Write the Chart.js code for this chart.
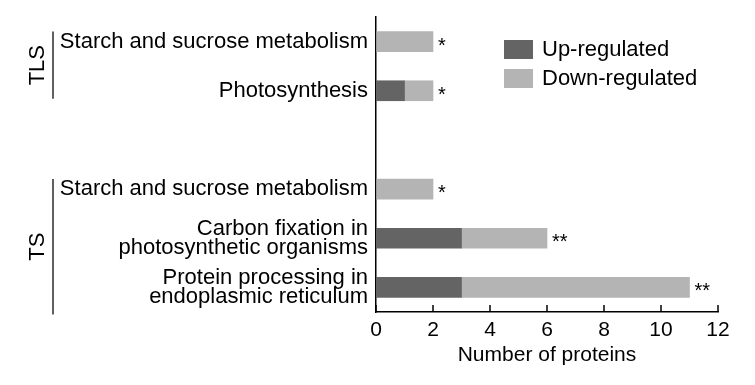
<!DOCTYPE html>
<html>
<head>
<meta charset="utf-8">
<script src="https://cdn.jsdelivr.net/npm/chart.js@4.4.1/dist/chart.umd.min.js"></script>
<style>
  html, body { margin: 0; padding: 0; background: #fff; }
  #wrap { width: 755px; height: 385px; }
</style>
</head>
<body>
<div id="wrap"><canvas id="pathwayChart"></canvas></div>
<script>
// Chart data
const categories = [
  'Starch and sucrose metabolism',
  'Photosynthesis',
  '',
  'Starch and sucrose metabolism',
  ['Carbon fixation in', 'photosynthetic organisms'],
  ['Protein processing in', 'endoplasmic reticulum']
];
const upRegulated = [0, 1, null, 0, 3, 3];
const downRegulated = [2, 1, null, 2, 3, 8];
const significance = ['*', '*', '', '*', '**', '**'];
const groupNames = ['TLS', 'TS'];
const groupStart = [0, 3];
const groupEnd = [1, 5];

const FONT = "'Liberation Sans', Arial, sans-serif";
const darkGrey = '#646464';
const lightGrey = '#b4b4b4';

// Extra drawing: inward ticks, asterisks, group brackets, legend
const decorations = {
  id: 'decorations',
  afterDraw(chart) {
    const ctx = chart.ctx;
    const xs = chart.scales.x;
    const ys = chart.scales.y;
    ctx.save();

    // inward tick marks on x axis
    ctx.strokeStyle = '#000';
    ctx.lineWidth = 1.5;
    xs.ticks.forEach(t => {
      const px = xs.getPixelForValue(t.value);
      ctx.beginPath();
      ctx.moveTo(px, ys.bottom);
      ctx.lineTo(px, ys.bottom - 7);
      ctx.stroke();
    });

    // significance stars
    const meta = chart.getDatasetMeta(1);
    ctx.fillStyle = '#000';
    ctx.font = '20px ' + FONT;
    ctx.textAlign = 'left';
    ctx.textBaseline = 'alphabetic';
    significance.forEach((s, i) => {
      if (!s) return;
      const bar = meta.data[i];
      ctx.fillText(s, bar.x + 5, bar.y + 10);
    });

    // group brackets
    ctx.strokeStyle = '#2b2b2b';
    ctx.lineWidth = 1.5;
    ctx.font = '22px ' + FONT;
    groupNames.forEach((name, g) => {
      const startLines = Array.isArray(categories[groupStart[g]]) ? 2 : 1;
      const endLines = Array.isArray(categories[groupEnd[g]]) ? 2 : 1;
      const top = ys.getPixelForValue(groupStart[g]) - 10 - 19 * (startLines - 1);
      const bottom = ys.getPixelForValue(groupEnd[g]) + 8 + 19 * (endLines - 1);
      ctx.beginPath();
      ctx.moveTo(53, top);
      ctx.lineTo(53, bottom);
      ctx.stroke();
      ctx.save();
      ctx.translate(38, (top + bottom) / 2);
      ctx.rotate(-Math.PI / 2);
      ctx.textAlign = 'center';
      ctx.textBaseline = 'middle';
      ctx.fillText(name, 0, 0);
      ctx.restore();
    });

    // legend
    ctx.textAlign = 'left';
    ctx.textBaseline = 'middle';
    chart.data.datasets.forEach((ds, i) => {
      const y = 40 + i * 29;
      ctx.fillStyle = ds.backgroundColor;
      ctx.fillRect(504, y, 29, 19);
      ctx.fillStyle = '#000';
      ctx.fillText(ds.label, 542, y + 10);
    });

    ctx.restore();
  }
};

const chartCtx = document.getElementById('pathwayChart');
new Chart(chartCtx, {
  type: 'bar',
  data: {
    labels: categories,
    datasets: [{
      label: 'Up-regulated',
      data: upRegulated,
      backgroundColor: darkGrey,
      borderWidth: 0
    }, {
      label: 'Down-regulated',
      data: downRegulated,
      backgroundColor: lightGrey,
      borderWidth: 0
    }]
  },
  options: {
    indexAxis: 'y',
    responsive: true,
    maintainAspectRatio: false,
    animation: false,
    layout: { padding: { top: 17, right: 37, left: 0, bottom: 0 } },
    datasets: { bar: { barThickness: 20 } },
    scales: {
      x: {
        stacked: true,
        min: 0,
        max: 12,
        ticks: {
          stepSize: 2,
          padding: 6,
          color: '#000',
          font: { family: FONT, size: 21 }
        },
        grid: { display: false, drawTicks: false },
        border: { display: true, color: '#000', width: 1.5 },
        title: {
          display: true,
          text: 'Number of proteins',
          color: '#000',
          font: { family: FONT, size: 21 },
          padding: { top: 0, bottom: 17 }
        },
        afterFit: s => { s.height = 73; }
      },
      y: {
        stacked: true,
        ticks: {
          padding: 8,
          color: '#000',
          font: { family: FONT, size: 22, lineHeight: 0.85 }
        },
        grid: { display: false, drawTicks: false },
        border: { display: true, color: '#000', width: 1.5 },
        afterFit: s => {
          s.width = 376;
          s.paddingTop = 0;
          s.paddingBottom = 0;
        }
      }
    },
    plugins: {
      legend: { display: false },
      tooltip: { enabled: false }
    }
  },
  plugins: [decorations]
});
</script>
</body>
</html>
